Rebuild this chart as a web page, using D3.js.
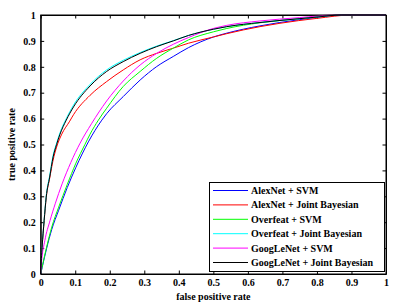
<!DOCTYPE html>
<html>
<head>
<meta charset="utf-8">
<script src="https://cdn.jsdelivr.net/npm/d3@7"></script>
<style>
  body { margin: 0; background: #fff; }
  text { font-family: "Liberation Serif", "Times New Roman", serif; font-weight: bold; }
</style>
</head>
<body>
<div id="chartContainer"></div>
<script>
// ROC curves (false positive rate, true positive rate)
var seriesNames = ["AlexNet + SVM", "AlexNet + Joint Bayesian", "Overfeat + SVM",
  "Overfeat + Joint Bayesian", "GoogLeNet + SVM", "GoogLeNet + Joint Bayesian"];
var seriesColors = ["#0000ff", "#ff0000", "#00ff00", "#00ffff", "#ff00ff", "#000000"];

var alexSvmX = [0, 0.004, 0.017, 0.032, 0.052, 0.077, 0.102, 0.138, 0.177, 0.191, 0.239, 0.288, 0.336, 0.384, 0.428, 0.5, 0.539, 0.635, 0.75, 0.88, 1];
var alexSvmY = [0, 0.024, 0.098, 0.172, 0.246, 0.334, 0.412, 0.510, 0.594, 0.619, 0.685, 0.749, 0.801, 0.840, 0.874, 0.915, 0.930, 0.958, 0.982, 1, 1];

var alexJbX = [0, 0.002, 0.004, 0.01, 0.016, 0.026, 0.036, 0.046, 0.061, 0.084, 0.095, 0.143, 0.191, 0.239, 0.288, 0.336, 0.384, 0.428, 0.5, 0.539, 0.635, 0.693, 0.8, 0.9, 1];
var alexJbY = [0, 0.06, 0.103, 0.206, 0.295, 0.370, 0.440, 0.490, 0.540, 0.590, 0.615, 0.690, 0.743, 0.788, 0.827, 0.852, 0.872, 0.891, 0.915, 0.928, 0.955, 0.968, 0.987, 1, 1];

var overSvmX = [0, 0.004, 0.017, 0.032, 0.052, 0.077, 0.102, 0.128, 0.143, 0.167, 0.191, 0.239, 0.288, 0.336, 0.384, 0.428, 0.5, 0.539, 0.635, 0.75, 0.86, 1];
var overSvmY = [0, 0.026, 0.103, 0.181, 0.258, 0.346, 0.428, 0.500, 0.540, 0.594, 0.640, 0.724, 0.782, 0.833, 0.872, 0.904, 0.935, 0.948, 0.970, 0.986, 1, 1];

var overJbX = [0, 0.002, 0.004, 0.01, 0.016, 0.026, 0.036, 0.046, 0.056, 0.074, 0.095, 0.143, 0.191, 0.239, 0.288, 0.336, 0.384, 0.428, 0.5, 0.539, 0.635, 0.693, 0.8, 0.87, 1];
var overJbY = [0, 0.06, 0.105, 0.210, 0.302, 0.380, 0.458, 0.505, 0.546, 0.600, 0.652, 0.732, 0.788, 0.825, 0.855, 0.880, 0.901, 0.921, 0.945, 0.955, 0.971, 0.979, 0.992, 1, 1];

var googSvmX = [0, 0.002, 0.012, 0.027, 0.042, 0.062, 0.087, 0.114, 0.147, 0.191, 0.239, 0.288, 0.336, 0.384, 0.428, 0.5, 0.539, 0.635, 0.75, 0.85, 1];
var googSvmY = [0, 0.039, 0.129, 0.206, 0.271, 0.348, 0.430, 0.505, 0.580, 0.668, 0.745, 0.807, 0.852, 0.887, 0.913, 0.948, 0.960, 0.977, 0.990, 1, 1];

var googJbX = [0, 0.002, 0.004, 0.01, 0.016, 0.026, 0.036, 0.046, 0.056, 0.074, 0.095, 0.143, 0.191, 0.239, 0.288, 0.336, 0.384, 0.428, 0.5, 0.539, 0.635, 0.693, 0.8, 0.87, 1];
var googJbY = [0, 0.06, 0.103, 0.206, 0.297, 0.374, 0.452, 0.500, 0.540, 0.594, 0.645, 0.726, 0.782, 0.820, 0.852, 0.878, 0.900, 0.921, 0.945, 0.955, 0.971, 0.979, 0.992, 1, 1];

var tickValues = [0, 0.1, 0.2, 0.3, 0.4, 0.5, 0.6, 0.7, 0.8, 0.9, 1];
var xLabel = "false positive rate";
var yLabel = "true positive rate";

function zipXY(xs, ys) {
  return xs.map(function (x, i) { return { x: x, y: ys[i] }; });
}

var seriesData = [
  zipXY(alexSvmX, alexSvmY),
  zipXY(alexJbX, alexJbY),
  zipXY(overSvmX, overSvmY),
  zipXY(overJbX, overJbY),
  zipXY(googSvmX, googSvmY),
  zipXY(googJbX, googJbY)
];

var WIDTH = 406, HEIGHT = 305,
  MARGINS = { top: 15, right: 20, bottom: 31, left: 40.7 };

var svg = d3.select("#chartContainer").append("svg")
  .attr("width", WIDTH)
  .attr("height", HEIGHT);

var xRange = d3.scaleLinear().domain([0, 1]).range([MARGINS.left, WIDTH - MARGINS.right]);
var yRange = d3.scaleLinear().domain([0, 1]).range([HEIGHT - MARGINS.bottom, MARGINS.top]);

var fmt = function (d) { return d === 0 || d === 1 ? String(d) : d3.format(".1f")(d); };
var TICK = 3.5;

// bottom and top axes (ticks point inward)
var xAxis = d3.axisBottom(xRange).tickValues(tickValues).tickFormat(fmt).tickSizeInner(-TICK).tickSizeOuter(0).tickPadding(5);
svg.append("g")
  .attr("transform", "translate(0," + yRange(0) + ")")
  .call(xAxis);
svg.append("g")
  .attr("transform", "translate(0," + yRange(1) + ")")
  .call(d3.axisTop(xRange).tickValues(tickValues).tickFormat("").tickSizeInner(-TICK).tickSizeOuter(0));

var yAxis = d3.axisLeft(yRange).tickValues(tickValues).tickFormat(fmt).tickSizeInner(-TICK).tickSizeOuter(0).tickPadding(5);
svg.append("g")
  .attr("transform", "translate(" + xRange(0) + ",0)")
  .call(yAxis);
svg.append("g")
  .attr("transform", "translate(" + xRange(1) + ",0)")
  .call(d3.axisRight(yRange).tickValues(tickValues).tickFormat("").tickSizeInner(-TICK).tickSizeOuter(0));

svg.selectAll(".domain").attr("stroke", "#000");
svg.selectAll(".tick line").attr("stroke", "#000");
svg.selectAll(".tick text")
  .attr("fill", "#000")
  .style("font-size", "10px")
  .style("font-family", "'Liberation Serif', serif")
  .style("font-weight", "bold");

var lineFunc = d3.line()
  .x(function (d) { return xRange(d.x); })
  .y(function (d) { return yRange(d.y); })
  .curve(d3.curveMonotoneX);

seriesData.forEach(function (data, i) {
  svg.append("path")
    .attr("d", lineFunc(data))
    .attr("stroke", seriesColors[i])
    .attr("stroke-width", 1)
    .attr("fill", "none");
});

// box frame
svg.append("rect")
  .attr("x", xRange(0)).attr("y", yRange(1))
  .attr("width", xRange(1) - xRange(0)).attr("height", yRange(0) - yRange(1))
  .attr("fill", "none").attr("stroke", "#000").attr("stroke-width", 1);

// axis labels
svg.append("text")
  .attr("x", (xRange(0) + xRange(1)) / 2)
  .attr("y", 300)
  .attr("text-anchor", "middle")
  .style("font-size", "10px")
  .text(xLabel);

svg.append("text")
  .attr("transform", "translate(15," + ((yRange(0) + yRange(1)) / 2) + ") rotate(-90)")
  .attr("text-anchor", "middle")
  .style("font-size", "10px")
  .text(yLabel);

// legend
var legend = svg.append("g");
legend.append("rect")
  .attr("x", 209.5).attr("y", 182.5)
  .attr("width", 175).attr("height", 89)
  .attr("fill", "#fff").attr("stroke", "#000").attr("stroke-width", 1);

seriesNames.forEach(function (name, i) {
  var yy = 190.5 + i * 14.4;
  legend.append("line")
    .attr("x1", 213).attr("x2", 248)
    .attr("y1", yy).attr("y2", yy)
    .attr("stroke", seriesColors[i]).attr("stroke-width", 1);
  legend.append("text")
    .attr("x", 251).attr("y", yy + 3.5)
    .style("font-size", "10px")
    .text(name);
});
</script>
</body>
</html>
